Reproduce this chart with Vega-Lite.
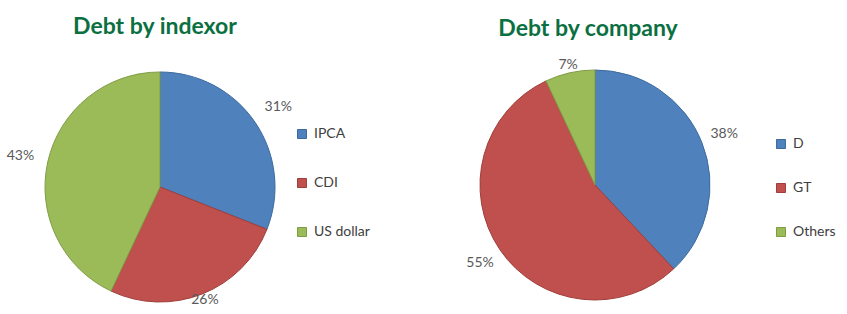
{
  "$schema": "https://vega.github.io/schema/vega-lite/v6.json",
  "padding": {"top": 16, "left": 0, "right": 0, "bottom": 0},
  "bounds": "flush",
  "spacing": 115,
  "config": {
    "view": {"stroke": null},
    "font": "Lato",
    "title": {"font": "Lato", "fontSize": 23, "fontWeight": "bold", "color": "#0b7041", "anchor": "middle"},
    "legend": {
      "orient": "none", "title": null, "symbolType": "square", "symbolSize": 81,
      "symbolStrokeWidth": 1, "labelFont": "Lato", "labelFontSize": 14, "labelColor": "#404040",
      "labelOffset": 5
    }
  },
  "hconcat": [
    {
      "width": 320,
      "height": 254,
      "title": {"text": "Debt by indexor", "dx": -5, "offset": 21},
      "data": {"values": [
        {"indexor": "IPCA", "share": 0.31, "rank": 1},
        {"indexor": "CDI", "share": 0.26, "rank": 2},
        {"indexor": "US dollar", "share": 0.43, "rank": 3}
      ]},
      "encoding": {
        "theta": {"field": "share", "type": "quantitative", "stack": true},
        "order": {"field": "rank", "type": "quantitative"}
      },
      "layer": [
        {
          "mark": {"type": "arc", "outerRadius": 115, "strokeWidth": 1},
          "encoding": {
            "color": {"field": "indexor", "type": "nominal",
              "scale": {"domain": ["IPCA", "CDI", "US dollar"], "range": ["#4f81bd", "#c0504d", "#9bbb59"]},
              "legend": {"legendX": 295, "legendY": 67, "rowPadding": 35}},
            "stroke": {"field": "indexor", "type": "nominal",
              "scale": {"domain": ["IPCA", "CDI", "US dollar"], "range": ["#3d6a9e", "#9f3e3b", "#7f9c45"]},
              "legend": {"legendX": 295, "legendY": 67, "rowPadding": 35}}
          }
        },
        {
          "mark": {"type": "text", "radius": {"expr": "datum.indexor === 'CDI' ? 122 : 143"}, "fontSize": 14, "fill": "#595959"},
          "encoding": {
            "text": {"field": "share", "type": "quantitative", "format": ".0%"},
            "detail": {"field": "indexor", "type": "nominal"}
          }
        }
      ]
    },
    {
      "width": 320,
      "height": 250,
      "title": {"text": "Debt by company", "dx": -7, "offset": 17},
      "data": {"values": [
        {"company": "D", "share": 0.38, "rank": 1},
        {"company": "GT", "share": 0.55, "rank": 2},
        {"company": "Others", "share": 0.07, "rank": 3}
      ]},
      "encoding": {
        "theta": {"field": "share", "type": "quantitative", "stack": true},
        "order": {"field": "rank", "type": "quantitative"}
      },
      "layer": [
        {
          "mark": {"type": "arc", "outerRadius": 115, "strokeWidth": 1},
          "encoding": {
            "color": {"field": "company", "type": "nominal",
              "scale": {"domain": ["D", "GT", "Others"], "range": ["#4f81bd", "#c0504d", "#9bbb59"]},
              "legend": {"legendX": 339, "legendY": 77, "rowPadding": 30}},
            "stroke": {"field": "company", "type": "nominal",
              "scale": {"domain": ["D", "GT", "Others"], "range": ["#3d6a9e", "#9f3e3b", "#7f9c45"]},
              "legend": {"legendX": 339, "legendY": 77, "rowPadding": 30}}
          }
        },
        {
          "mark": {"type": "text", "radius": {"expr": "datum.company === 'Others' ? 123 : 139"}, "fontSize": 14, "fill": "#595959"},
          "encoding": {
            "text": {"field": "share", "type": "quantitative", "format": ".0%"},
            "detail": {"field": "company", "type": "nominal"}
          }
        }
      ]
    }
  ],
  "resolve": {"scale": {"color": "independent", "stroke": "independent", "theta": "independent"}, "legend": {"color": "independent", "stroke": "independent"}}
}
